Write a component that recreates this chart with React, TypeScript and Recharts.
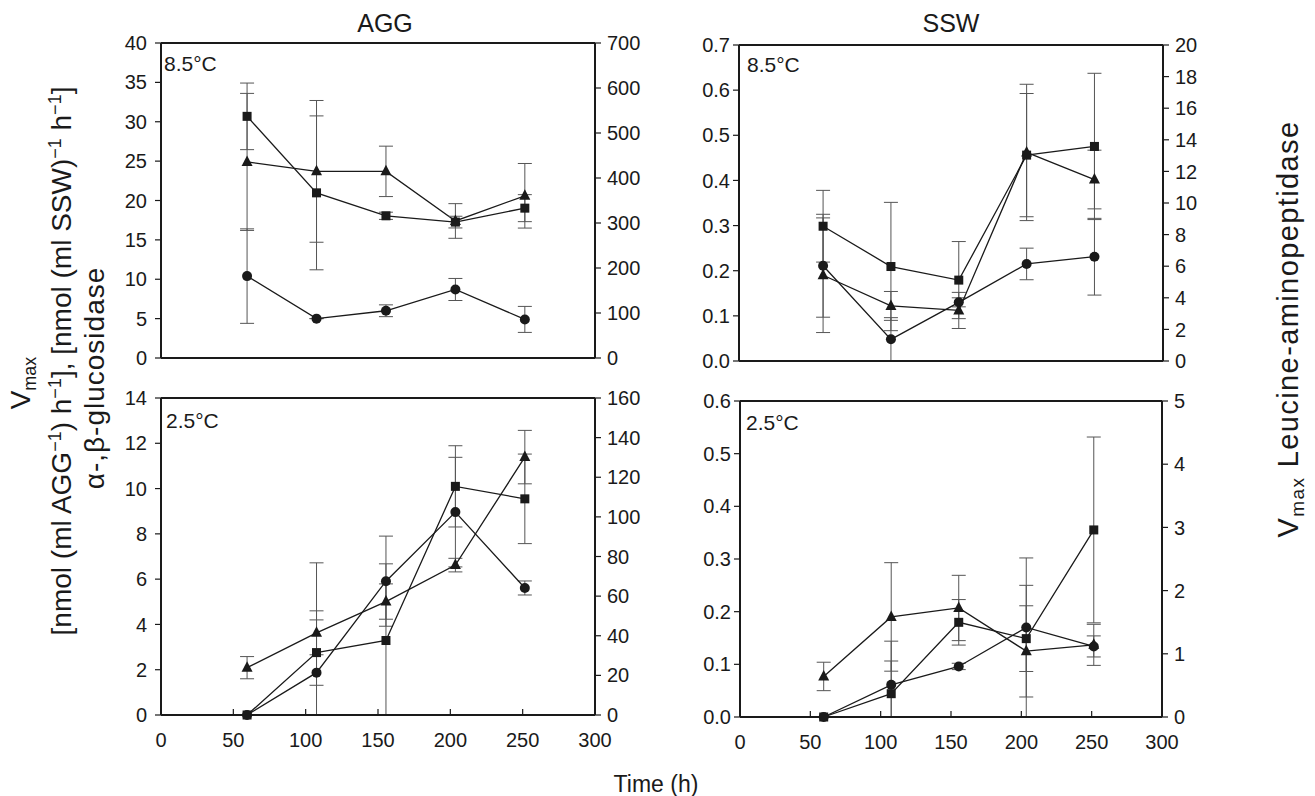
import React from 'react';
import { ComposedChart, Line, XAxis, YAxis, ErrorBar, ReferenceLine } from 'recharts';

const FONT = '"Liberation Sans", Arial, Helvetica, sans-serif';
const INK = '#1a1a1a';

// Sampling times (h)
const TIME_H = [59.5, 107.5, 155.5, 203.5, 251.5];
const X_TICKS = [0, 50, 100, 150, 200, 250, 300];

// AGG, 8.5 °C  (circle & triangle: left axis; square: right axis)
const AGG85_CIRCLE = [10.4, 5.0, 6.0, 8.7, 4.9];
const AGG85_CIRCLE_SD = [6.0, 0, 0.75, 1.4, 1.65];
const AGG85_TRIANGLE = [24.9, 23.7, 23.7, 17.4, 20.6];
const AGG85_TRIANGLE_SD = [8.7, 9.0, 3.2, 2.2, 4.1];
const AGG85_SQUARE = [537, 367, 316, 302, 333];
const AGG85_SQUARE_SD = [74, 171, 8, 13, 30];

// SSW, 8.5 °C
const SSW85_CIRCLE = [0.211, 0.048, 0.13, 0.215, 0.231];
const SSW85_CIRCLE_SD = [0.114, 0.048, 0.01, 0.035, 0.085];
const SSW85_TRIANGLE = [0.19, 0.122, 0.112, 0.462, 0.402];
const SSW85_TRIANGLE_SD = [0.127, 0.032, 0.04, 0.151, 0.065];
const SSW85_SQUARE = [8.53, 5.98, 5.12, 13.03, 13.58];
const SSW85_SQUARE_SD = [2.27, 4.06, 2.44, 3.9, 4.63];

// AGG, 2.5 °C
const AGG25_CIRCLE = [0, 1.87, 5.91, 8.96, 5.61];
const AGG25_CIRCLE_SD = [0, 4.85, 1.99, 2.42, 0.31];
const AGG25_TRIANGLE = [2.09, 3.63, 5.01, 6.62, 11.39];
const AGG25_TRIANGLE_SD = [0.49, 0.97, 0.78, 0.3, 1.18];
const AGG25_SQUARE = [0, 31.5, 37.6, 115.4, 109.1];
const AGG25_SQUARE_SD = [0, 16.5, 38.7, 20.5, 22.6];

// SSW, 2.5 °C
const SSW25_CIRCLE = [0, 0.061, 0.096, 0.17, 0.134];
const SSW25_CIRCLE_SD = [0, 0.083, 0.006, 0.132, 0.02];
const SSW25_TRIANGLE = [0.077, 0.19, 0.207, 0.125, 0.137];
const SSW25_TRIANGLE_SD = [0.027, 0.103, 0.062, 0.125, 0.039];
const SSW25_SQUARE = [0, 0.369, 1.498, 1.24, 2.96];
const SSW25_SQUARE_SD = [0, 0.517, 0.36, 0.52, 1.47];

// Axis ticks
const AGG85_LEFT_TICKS = [0, 5, 10, 15, 20, 25, 30, 35, 40];
const AGG85_RIGHT_TICKS = [0, 100, 200, 300, 400, 500, 600, 700];
const SSW85_LEFT_TICKS = [0, 0.1, 0.2, 0.3, 0.4, 0.5, 0.6, 0.7];
const SSW85_RIGHT_TICKS = [0, 2, 4, 6, 8, 10, 12, 14, 16, 18, 20];
const AGG25_LEFT_TICKS = [0, 2, 4, 6, 8, 10, 12, 14];
const AGG25_RIGHT_TICKS = [0, 20, 40, 60, 80, 100, 120, 140, 160];
const SSW25_LEFT_TICKS = [0, 0.1, 0.2, 0.3, 0.4, 0.5, 0.6];
const SSW25_RIGHT_TICKS = [0, 1, 2, 3, 4, 5];

const err = (v: number, sd: number) => [Math.min(v, sd), sd];

const buildRows = (c: number[], cs: number[], t: number[], ts: number[], s: number[], ss: number[]) =>
  TIME_H.map((h, i) => ({
    h,
    c: c[i],
    cE: err(c[i], cs[i]),
    t: t[i],
    tE: err(t[i], ts[i]),
    s: s[i],
    sE: err(s[i], ss[i]),
  }));

const SquareDot = (props: any) => {
  const { cx, cy, index } = props;
  if (cx == null || cy == null) return <g key={`sq-${index}`} />;
  return <rect key={`sq-${index}`} x={cx - 4.5} y={cy - 4.5} width={9} height={9} fill={INK} />;
};
const TriangleDot = (props: any) => {
  const { cx, cy, index } = props;
  if (cx == null || cy == null) return <g key={`tr-${index}`} />;
  return (
    <polygon
      key={`tr-${index}`}
      points={`${cx},${cy - 6.5} ${cx - 5.5},${cy + 4} ${cx + 5.5},${cy + 4}`}
      fill={INK}
    />
  );
};
const CircleDot = (props: any) => {
  const { cx, cy, index } = props;
  if (cx == null || cy == null) return <g key={`ci-${index}`} />;
  return <circle key={`ci-${index}`} cx={cx} cy={cy} r={5} fill={INK} />;
};

type PanelProps = {
  left: number;
  top: number;
  w: number;
  h: number;
  rows: any[];
  leftTicks: number[];
  rightTicks: number[];
  leftFmt?: (v: number) => string;
  bottom: boolean;
  leftMargin: number;
};

const tickStyle = { fontSize: 20, fill: INK, fontFamily: FONT };
const AX = 70;
const TOPM = 20;
const XH = 50;

const Panel = ({ left, top, w, h, rows, leftTicks, rightTicks, leftFmt, bottom, leftMargin }: PanelProps) => {
  const lMax = leftTicks[leftTicks.length - 1];
  const rMax = rightTicks[rightTicks.length - 1];
  const eb = { width: 7, stroke: '#555', strokeWidth: 1 } as any;
  return (
    <div style={{ position: 'absolute', left: left - AX, top: top - TOPM }}>
      <ComposedChart
        width={w + 2 * AX}
        height={h + TOPM + XH}
        data={rows}
        margin={{ top: TOPM, right: 0, bottom: 0, left: 0 }}
      >
        <XAxis
          dataKey="h"
          type="number"
          domain={[0, 300]}
          ticks={X_TICKS}
          interval={0}
          height={XH}
          stroke={INK}
          axisLine={{ stroke: INK, strokeWidth: 2 }}
          tickLine={{ stroke: INK, strokeWidth: 1.2 }}
          tickSize={bottom ? -6 : 6}
          tickMargin={bottom ? 24 : 4}
          tick={bottom ? tickStyle : false}
        />
        <YAxis
          yAxisId="l"
          type="number"
          domain={[0, lMax]}
          ticks={leftTicks}
          interval={0}
          width={AX}
          stroke={INK}
          axisLine={{ stroke: INK, strokeWidth: 2 }}
          tickLine={{ stroke: INK, strokeWidth: 1.2 }}
          tickSize={6}
          tickMargin={leftMargin}
          tick={tickStyle}
          tickFormatter={leftFmt}
        />
        <YAxis
          yAxisId="r"
          orientation="right"
          type="number"
          domain={[0, rMax]}
          ticks={rightTicks}
          interval={0}
          width={AX}
          stroke={INK}
          axisLine={{ stroke: INK, strokeWidth: 2 }}
          tickLine={{ stroke: INK, strokeWidth: 1.2 }}
          tickSize={6}
          tickMargin={6}
          tick={tickStyle}
        />
        <ReferenceLine yAxisId="l" y={lMax} stroke={INK} strokeWidth={2} />
        <Line
          yAxisId="l"
          dataKey="c"
          stroke={INK}
          strokeWidth={1.3}
          dot={CircleDot}
          activeDot={false}
          isAnimationActive={false}
        >
          <ErrorBar dataKey="cE" direction="y" {...eb} />
        </Line>
        <Line
          yAxisId="l"
          dataKey="t"
          stroke={INK}
          strokeWidth={1.3}
          dot={TriangleDot}
          activeDot={false}
          isAnimationActive={false}
        >
          <ErrorBar dataKey="tE" direction="y" {...eb} />
        </Line>
        <Line
          yAxisId="r"
          dataKey="s"
          stroke={INK}
          strokeWidth={1.3}
          dot={SquareDot}
          activeDot={false}
          isAnimationActive={false}
        >
          <ErrorBar dataKey="sE" direction="y" {...eb} />
        </Line>
      </ComposedChart>
    </div>
  );
};

const fmt1 = (v: number) => v.toFixed(1);
const SUP = { fontSize: 18 };

export default function App() {
  const lab = { fontFamily: FONT, fill: INK };
  return (
    <div style={{ position: 'absolute', left: 0, top: 0, width: 1315, height: 796, background: '#fff' }}>
      <Panel
        left={161} top={43} w={434} h={315} leftMargin={8}
        rows={buildRows(AGG85_CIRCLE, AGG85_CIRCLE_SD, AGG85_TRIANGLE, AGG85_TRIANGLE_SD, AGG85_SQUARE, AGG85_SQUARE_SD)}
        leftTicks={AGG85_LEFT_TICKS} rightTicks={AGG85_RIGHT_TICKS} bottom={false}
      />
      <Panel
        left={739} top={45} w={424} h={316} leftMargin={3}
        rows={buildRows(SSW85_CIRCLE, SSW85_CIRCLE_SD, SSW85_TRIANGLE, SSW85_TRIANGLE_SD, SSW85_SQUARE, SSW85_SQUARE_SD)}
        leftTicks={SSW85_LEFT_TICKS} rightTicks={SSW85_RIGHT_TICKS} leftFmt={fmt1} bottom={false}
      />
      <Panel
        left={161} top={398} w={434} h={317} leftMargin={8}
        rows={buildRows(AGG25_CIRCLE, AGG25_CIRCLE_SD, AGG25_TRIANGLE, AGG25_TRIANGLE_SD, AGG25_SQUARE, AGG25_SQUARE_SD)}
        leftTicks={AGG25_LEFT_TICKS} rightTicks={AGG25_RIGHT_TICKS} bottom={true}
      />
      <Panel
        left={740} top={401} w={422} h={316} leftMargin={3}
        rows={buildRows(SSW25_CIRCLE, SSW25_CIRCLE_SD, SSW25_TRIANGLE, SSW25_TRIANGLE_SD, SSW25_SQUARE, SSW25_SQUARE_SD)}
        leftTicks={SSW25_LEFT_TICKS} rightTicks={SSW25_RIGHT_TICKS} leftFmt={fmt1} bottom={true}
      />
      <svg
        width={1315}
        height={796}
        style={{ position: 'absolute', left: 0, top: 0, pointerEvents: 'none' }}
      >
        <text x={385} y={32} textAnchor="middle" fontSize={25} {...lab}>AGG</text>
        <text x={951} y={32} textAnchor="middle" fontSize={25} {...lab}>SSW</text>
        <text x={164} y={71} fontSize={21} {...lab}>8.5°C</text>
        <text x={747} y={72} fontSize={21} {...lab}>8.5°C</text>
        <text x={166} y={428} fontSize={21} {...lab}>2.5°C</text>
        <text x={746} y={430} fontSize={21} {...lab}>2.5°C</text>
        <text x={656} y={792} textAnchor="middle" fontSize={23} {...lab}>Time (h)</text>

        <text transform="translate(30,383) rotate(-90)" textAnchor="middle" fontSize={28} {...lab}>
          <tspan>V</tspan>
          <tspan fontSize={18} dy={6}>max</tspan>
        </text>
        <text transform="translate(71,361) rotate(-90)" textAnchor="middle" fontSize={28} {...lab}>
          <tspan>[nmol (ml AGG</tspan>
          <tspan {...SUP} dy={-10}>−1</tspan>
          <tspan dy={10}>) h</tspan>
          <tspan {...SUP} dy={-10}>−1</tspan>
          <tspan dy={10}>], [nmol (ml SSW)</tspan>
          <tspan {...SUP} dy={-10}>−1</tspan>
          <tspan dy={10}> h</tspan>
          <tspan {...SUP} dy={-10}>−1</tspan>
          <tspan dy={10}>]</tspan>
        </text>
        <text transform="translate(104,378) rotate(-90)" textAnchor="middle" fontSize={28} letterSpacing={1} {...lab}>
          α-,β-glucosidase
        </text>
        <text transform="translate(1298,329) rotate(-90)" textAnchor="middle" fontSize={29} letterSpacing={1.4} {...lab}>
          <tspan>V</tspan>
          <tspan fontSize={19} dy={6}>max</tspan>
          <tspan dy={-6}> Leucine-aminopeptidase</tspan>
        </text>
      </svg>
    </div>
  );
}
